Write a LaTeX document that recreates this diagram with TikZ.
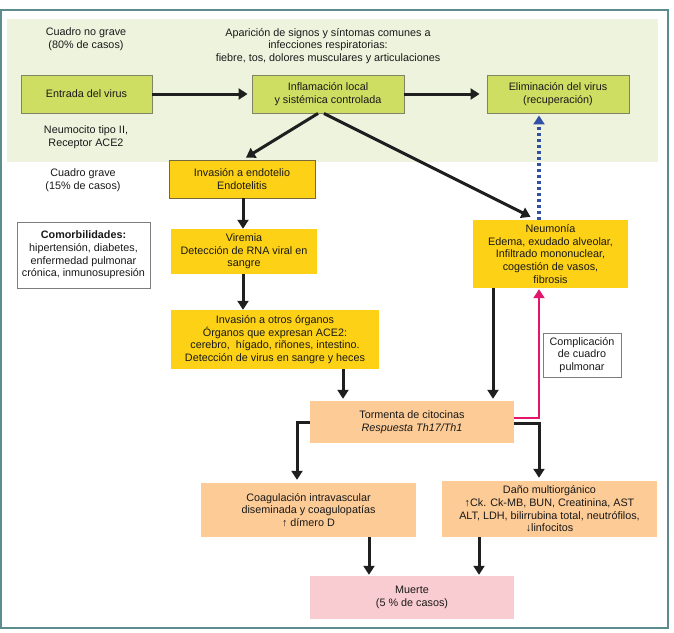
\documentclass[tikz,border=0pt]{standalone}
\usepackage{fontspec}
\setmainfont{Liberation Sans}
\usetikzlibrary{arrows.meta,calc}
\definecolor{frame}{RGB}{92,140,141}
\definecolor{bggreen}{RGB}{238,243,221}
\definecolor{boxgreen}{RGB}{206,222,98}
\definecolor{greenborder}{RGB}{130,130,100}
\definecolor{boxyellow}{RGB}{252,209,22}
\definecolor{yellowborder}{RGB}{120,105,60}
\definecolor{boxpeach}{RGB}{252,203,150}
\definecolor{boxpink}{RGB}{248,204,208}
\definecolor{arrpink}{RGB}{226,22,106}
\definecolor{arrblue}{RGB}{48,80,165}
\definecolor{txt}{RGB}{25,25,25}
\definecolor{greyborder}{RGB}{125,125,125}
\begin{document}
\begin{tikzpicture}[x=1pt,y=-1pt,
  every node/.style={font=\fontsize{10.8}{12.7}\selectfont, text=txt, align=center, inner sep=0pt},
  gbox/.style={draw=greenborder, line width=0.9pt, fill=boxgreen},
  ybox/.style={fill=boxyellow},
  pbox/.style={fill=boxpeach},
  wbox/.style={draw=greyborder, line width=0.9pt, fill=white},
  arr/.style={line width=3pt, draw=black!88, -{Triangle[length=9pt,width=11pt]}},
  parr/.style={line width=2.8pt, draw=arrpink, -{Triangle[length=9pt,width=11pt]}},
  barr/.style={line width=3.2pt, draw=arrblue, dash pattern=on 3pt off 3pt, -{Triangle[length=9pt,width=11pt]}},
]
\useasboundingbox (0,0) rectangle (674,632);
\fill[white] (0,0) rectangle (674,632);
\draw[frame, line width=1.6pt] (1,10) rectangle (668,628);
\fill[bggreen] (7,19) rectangle (658,162);

% texts
\node (nograve) at (86,39) {Cuadro no grave\\(80\% de casos)};
\node (aparicion) at (328,46) {Aparición de signos y síntomas comunes a\\infecciones respiratorias:\\fiebre, tos, dolores musculares y articulaciones};
\node (neumocito) at (86,137) {Neumocito tipo II,\\Receptor ACE2};
\node (grave) at (83,180) {Cuadro grave\\(15\% de casos)};

% boxes
\node[gbox, minimum width=131pt, minimum height=38pt] (entrada) at (86.5,94) {Entrada del virus};
\node[gbox, minimum width=152pt, minimum height=38pt] (infl) at (328,94) {Inflamación local\\y sistémica controlada};
\node[gbox, minimum width=142pt, minimum height=38pt] (elim) at (558,94) {Eliminación del virus\\(recuperación)};
\node[ybox, draw=yellowborder, line width=0.9pt, minimum width=146pt, minimum height=38pt] (endo) at (242,179) {Invasión a endotelio\\Endotelitis};
\node[ybox, minimum width=146pt, minimum height=45pt] (viremia) at (244,251.5) {Viremia\\Detección de RNA viral en\\sangre};
\node[ybox, minimum width=208pt, minimum height=59pt] (otros) at (275,339.5) {Invasión a otros órganos\\Órganos que expresan ACE2:\\cerebro,\ \ hígado, riñones, intestino.\\Detección de virus en sangre y heces};
\node[ybox, minimum width=155pt, minimum height=68pt] (neum) at (550.5,254) {Neumonía\\Edema, exudado alveolar,\\Infiltrado mononuclear,\\cogestión de vasos,\\fibrosis};
\node[wbox, minimum width=133pt, minimum height=66pt] (comor) at (83.5,255) {\textbf{Comorbilidades:}\\hipertensión, diabetes,\\enfermedad pulmonar\\crónica, inmunosupresión};
\node[wbox, minimum width=78pt, minimum height=44pt] (compl) at (582,355) {Complicación\\de cuadro\\pulmonar};
\node[pbox, minimum width=204pt, minimum height=42pt] (torm) at (412,422) {Tormenta de citocinas\\\textit{Respuesta Th17/Th1}};
\node[pbox, minimum width=215pt, minimum height=54pt] (coag) at (308.5,510) {Coagulación intravascular\\diseminada y coagulopatías\\↑ dímero D};
\node[pbox, minimum width=215pt, minimum height=56pt] (dano) at (549.5,509) {Daño multiorgánico\\↑Ck. Ck-MB, BUN, Creatinina, AST\\ALT, LDH, bilirrubina total, neutrófilos,\\↓linfocitos};
\node[fill=boxpink, minimum width=204pt, minimum height=43pt] (muerte) at (412,597.5) {Muerte\\(5 \% de casos)};

% connectors
\draw[arr] (entrada.east) -- ([xshift=-4pt]infl.west);
\draw[arr] (infl.east) -- ([xshift=-7pt]elim.west);
\draw[arr] ([xshift=-10pt]infl.south) -- ([xshift=4pt,yshift=2pt]endo.north);
\draw[arr] ([xshift=-4pt]infl.south) -- ([xshift=-20pt,yshift=3pt]neum.north);
\draw[arr] ([xshift=1pt]endo.south) -- ([xshift=-1pt]viremia.north);
\coordinate (v1) at ([xshift=-1pt]viremia.south);
\draw[arr] (v1) -- (v1 |- otros.north);
\coordinate (o1) at ([xshift=68pt]otros.south);
\draw[arr] (o1) -- ([yshift=2pt]o1 |- torm.north);
\coordinate (n1) at ([xshift=-57.5pt]neum.south);
\draw[arr] (n1) -- ([yshift=2pt]n1 |- torm.north);
\coordinate (n2) at ([xshift=-11.5pt]neum.north);
\draw[barr] (n2) -- ([yshift=-2pt]n2 |- elim.south);
\draw[parr] ([yshift=4pt]torm.east) -| ([yshift=-1pt]n2 |- neum.south);
\draw[arr] ([yshift=-1pt]torm.east) -| ([yshift=3pt]n2 |- dano.north);
\draw[arr] (torm.west) -| ([xshift=-11.5pt,yshift=3pt]coag.north);
\coordinate (c1) at ([xshift=60.5pt]coag.south);
\draw[arr] (c1) -- ([yshift=1pt]c1 |- muerte.north);
\coordinate (d1) at ([xshift=-70.5pt]dano.south);
\draw[arr] (d1) -- ([yshift=1pt]d1 |- muerte.north);
\end{tikzpicture}
\end{document}
